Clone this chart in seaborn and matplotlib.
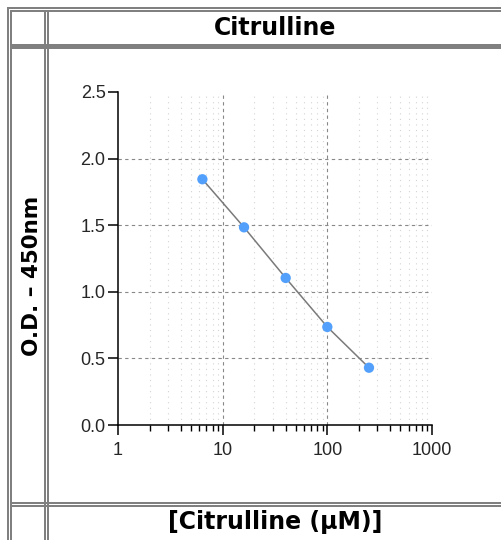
import numpy as np
import pandas as pd
import seaborn as sns
import matplotlib.pyplot as plt
from matplotlib.patches import Rectangle
from matplotlib.ticker import LogLocator, FixedLocator, NullFormatter
import matplotlib.transforms as mtransforms

# Standard curve data
conc_um = [6.4, 16, 40, 100, 250]
od_450 = [1.845, 1.484, 1.104, 0.736, 0.430]

title_text = "Citrulline"
xlabel_text = "[Citrulline (\u03bcM)]"
ylabel_text = "O.D. \u2013 450nm"
y_ticks = [0.0, 0.5, 1.0, 1.5, 2.0, 2.5]
x_ticks = [1, 10, 100, 1000]
x_tick_labels = ["1", "10", "100", "1000"]

df = pd.DataFrame({"conc": conc_um, "od": od_450})

sns.set_style("white")
plt.rcParams['font.family'] = ['DejaVu Sans']

W, H = 501, 540
fig = plt.figure(figsize=(W / 100, H / 100), dpi=100)

# pixel coords (top-left origin) -> figure
px = mtransforms.Affine2D().scale(1 / W, -1 / H).translate(0, 1) + fig.transFigure

border = "#808080"


def band(x0, y0, x1, y1):
    fig.add_artist(Rectangle((x0, y0), x1 - x0, y1 - y0, transform=px,
                             facecolor=border, edgecolor="none",
                             antialiased=False, zorder=5))


# outer table border
band(7, 7, W, 9)
band(7, 7, 9, H)
# cell borders
band(10, 10, W, 12)          # top of first row
band(10, 44, W, 49)          # header bottom / second row top
band(10, 10, 12, H)          # left of first column
band(44, 10, 46, H)          # right of first column
band(47, 10, 49, H)          # left of second column
band(10, 502, W, 504)        # bottom of plot row
band(10, 505, W, 507)        # top of last row

# plot area
ax = fig.add_axes([118 / W, 1 - 425 / H, (432 - 118) / W, (425 - 92) / H])

sns.lineplot(data=df, x="conc", y="od", color="#7a7a7a", linewidth=1.1,
             ax=ax, zorder=3)
sns.scatterplot(data=df, x="conc", y="od", color="#52a0fc", s=55,
                edgecolor="none", ax=ax, zorder=4)

ax.set_xscale("log")
ax.set_xlim(1, 1000)
ax.set_ylim(0, 2.5)
ax.xaxis.set_major_locator(FixedLocator(x_ticks))
ax.set_xticklabels(x_tick_labels)
ax.xaxis.set_minor_locator(LogLocator(base=10, subs=np.arange(2, 10)))
ax.xaxis.set_minor_formatter(NullFormatter())
ax.set_yticks(y_ticks)
ax.set_yticklabels([f"{v:.1f}" for v in y_ticks])
ax.set_xlabel("")
ax.set_ylabel("")

for side in ["top", "right"]:
    ax.spines[side].set_visible(False)
for side in ["left", "bottom"]:
    ax.spines[side].set_linewidth(1.1)
    ax.spines[side].set_color("black")

ax.tick_params(axis="both", which="major", direction="out", length=7,
               width=1.1, color="black", labelsize=13, pad=2,
               left=True, bottom=True)
ax.tick_params(axis="x", which="major", pad=5)
ax.tick_params(axis="x", which="minor", direction="out", length=4,
               width=1.0, color="black", bottom=True)
ax.tick_params(axis="y", which="minor", left=False)
for lab in ax.get_xticklabels() + ax.get_yticklabels():
    lab.set_family("Liberation Sans")

ax.grid(True, which="major", axis="both", color="#888888",
        linestyle=(0, (3, 3)), linewidth=0.8)
ax.grid(True, which="minor", axis="x", color="#d4d4d4",
        linestyle=(0, (1, 4)), linewidth=0.8)
ax.set_axisbelow(True)
# no grid lines on the axes edges
for t in [ax.xaxis.get_major_ticks()[0], ax.xaxis.get_major_ticks()[-1],
          ax.yaxis.get_major_ticks()[0], ax.yaxis.get_major_ticks()[-1]]:
    t.gridline.set_visible(False)

# table cell texts
fig.text(275 / W, 1 - 28 / H, title_text, ha="center", va="center",
         fontsize=17, fontweight="bold", color="black")
fig.text(275 / W, 1 - 522 / H, xlabel_text, ha="center", va="center",
         fontsize=17, fontweight="bold", color="black")
fig.text(32 / W, 1 - 276 / H, ylabel_text, ha="center", va="center",
         rotation=90, fontsize=15.5, fontweight="bold", color="black")

fig.savefig("out.png", dpi=100)
